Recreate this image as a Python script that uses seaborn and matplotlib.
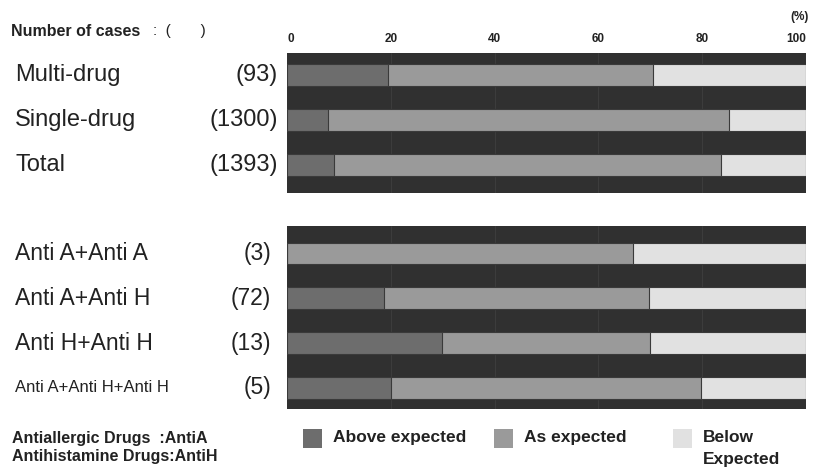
import numpy as np
import pandas as pd
import matplotlib
matplotlib.use("Agg")
import matplotlib.pyplot as plt
import matplotlib.transforms as mtransforms
from matplotlib.patches import Rectangle
import seaborn as sns

# top panel
top_groups = ["Multi-drug", "Single-drug", "Total"]
top_counts = ["(93)", "(1300)", "(1393)"]
top_above = [19.5, 7.9, 9.0]
top_as = [51.0, 77.3, 74.7]
top_below = [29.5, 14.8, 16.3]

# bottom panel
bot_groups = ["Anti A+Anti A", "Anti A+Anti H", "Anti H+Anti H", "Anti A+Anti H+Anti H"]
bot_counts = ["(3)", "(72)", "(13)", "(5)"]
bot_above = [0.0, 18.7, 29.9, 20.0]
bot_as = [66.6, 51.1, 40.1, 59.8]
bot_below = [33.4, 30.2, 30.0, 20.2]

legend_labels = ["Above expected", "As expected", "Below\nExpected"]

c_bg = "#303030"
c_above = "#6d6d6d"
c_as = "#9a9a9a"
c_below = "#e1e1e1"
c_txt = "#222222"

sns.set_theme(style="white")
plt.rcParams["font.family"] = ["Liberation Sans", "DejaVu Sans"]

W, H = 813, 467
fig = plt.figure(figsize=(W / 100, H / 100), dpi=100)
ax1 = fig.add_axes([287 / W, 1 - 193 / H, 519 / W, 140 / H])
ax2 = fig.add_axes([287 / W, 1 - 409 / H, 519 / W, 183 / H])


def stacked(ax, groups, above, as_, below):
    df = pd.DataFrame({"group": groups, "above": above, "as": as_, "below": below})
    df["c_as"] = df["above"] + df["as"]
    df["c_below"] = df["c_as"] + df["below"]
    kw = dict(y="group", orient="h", width=0.48, edgecolor="#3a3a3a", linewidth=0.8, ax=ax)
    sns.barplot(data=df, x="c_below", color=c_below, saturation=1, **kw)
    sns.barplot(data=df, x="c_as", color=c_as, saturation=1, **kw)
    sns.barplot(data=df, x="above", color=c_above, saturation=1, **kw)
    ax.set_facecolor(c_bg)
    ax.set_xlim(0, 100)
    for x in range(20, 100, 20):
        ax.axvline(x, color="#3c3c3c", lw=0.8, zorder=0)
    ax.set_xlabel("")
    ax.set_ylabel("")
    ax.set_yticks([])
    for s in ax.spines.values():
        s.set_visible(False)


stacked(ax1, top_groups, top_above, top_as, top_below)
stacked(ax2, bot_groups, bot_above, bot_as, bot_below)
ax1.set_ylim(2.62, -0.49)
ax2.set_ylim(3.47, -0.61)

ax1.xaxis.tick_top()
ax1.set_xticks([0, 20, 40, 60, 80, 100])
ax1.tick_params(axis="x", length=0, pad=6, labelsize=8.5)
for t in ax1.get_xticklabels():
    t.set_fontweight("bold")
    t.set_color(c_txt)
ax1.get_xticklabels()[-1].set_horizontalalignment("right")
ax1.get_xticklabels()[0].set_horizontalalignment("left")
ax2.set_xticks([])

# row labels
tr1 = mtransforms.blended_transform_factory(fig.transFigure, ax1.transData)
for i, (g, n) in enumerate(zip(top_groups, top_counts)):
    ax1.text(15 / W, i, g, transform=tr1, fontsize=17, va="center", ha="left", color=c_txt)
    ax1.text(278 / W, i, n, transform=tr1, fontsize=17, va="center", ha="right", color=c_txt)

tr2 = mtransforms.blended_transform_factory(fig.transFigure, ax2.transData)
for i, (g, n) in enumerate(zip(bot_groups, bot_counts)):
    fs = 12 if i == 3 else 16.5
    ax2.text(15 / W, i, g, transform=tr2, fontsize=fs, va="center", ha="left", color=c_txt)
    ax2.text(271 / W, i, n, transform=tr2, fontsize=16.5, va="center", ha="right", color=c_txt)

fig.text(11 / W, 1 - 31 / H, "Number of cases", fontsize=11.5, fontweight="bold",
         va="center", color=c_txt)
fig.text(153 / W, 1 - 31 / H, ":  (       )", fontsize=11, va="center", color=c_txt)
fig.text(800 / W, 1 - 17 / H, "(%)", fontsize=8.5, fontweight="bold",
         va="center", ha="center", color=c_txt)

fig.text(12 / W, 1 - 438 / H, "Antiallergic Drugs  :AntiA", fontsize=11.5,
         fontweight="bold", va="center", color=c_txt)
fig.text(12 / W, 1 - 457 / H, "Antihistamine Drugs:AntiH", fontsize=11.5,
         fontweight="bold", va="center", color=c_txt)

# legend
for x0, c, lab in zip([303, 494, 673], [c_above, c_as, c_below], legend_labels):
    fig.patches.append(Rectangle((x0 / W, 1 - 448 / H), 19 / W, 19 / H,
                                 transform=fig.transFigure, facecolor=c, edgecolor="none"))
    fig.text((x0 + 30) / W, 1 - 430 / H, lab, fontsize=12.5, fontweight="bold",
             va="top", ha="left", color=c_txt, linespacing=1.6)

fig.savefig("out.png", dpi=100)
